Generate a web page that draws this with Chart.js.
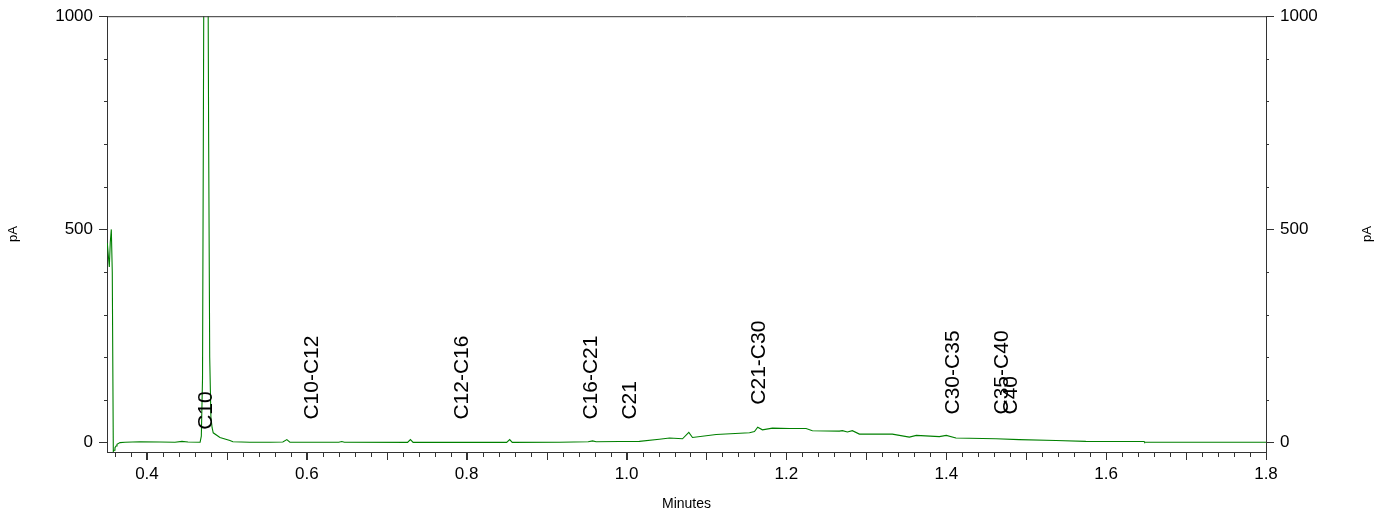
<!DOCTYPE html>
<html lang="en">
<head>
    <meta charset="UTF-8">
    <title>Chromatogram</title>
    <style>
        html, body { margin: 0; padding: 0; background: #fff; }
        #chromatogram { display: block; }
    </style>
    <script src="https://cdn.jsdelivr.net/npm/chart.js"></script>
</head>
<body>
    <canvas id="chromatogram" width="1386" height="515"></canvas>

    <script>
        // retention time (min) and detector signal (pA)
        const times = [
            0.3504, 0.3516, 0.3529, 0.3541, 0.3554, 0.3566, 0.3579, 0.3588, 0.3600, 0.3613,
            0.3625, 0.3663, 0.3725, 0.3913, 0.4163, 0.4350, 0.4438, 0.4513, 0.4665, 0.4680,
            0.4695, 0.4705, 0.4715, 0.4738, 0.4760, 0.4772, 0.4785, 0.4800, 0.4815, 0.4829,
            0.4913, 0.5038, 0.5075, 0.5288, 0.5538, 0.5700, 0.5750, 0.5788, 0.6400, 0.6438,
            0.6470, 0.7260, 0.7296, 0.7330, 0.8500, 0.8538, 0.8570, 0.9160, 0.9520, 0.9575,
            0.9620, 0.9910, 1.0160, 1.0410, 1.0538, 1.0700, 1.0779, 1.0825, 1.1121, 1.1538,
            1.1600, 1.1641, 1.1700, 1.1825, 1.2038, 1.2246, 1.2325, 1.2663, 1.2700, 1.2763,
            1.2825, 1.2913, 1.3288, 1.3325, 1.3538, 1.3625, 1.3913, 1.4000, 1.4121, 1.4621,
            1.4913, 1.5371, 1.5746, 1.6475, 1.6480, 1.8000
        ];
        const signal = [
            468, 440, 412, 470, 500, 400, -21, -18, -12, -8,
            -4, 0, 1, 2, 1.5, 1, 3, 1.5, 1, 15,
            150, 700, 1300, 1900, 1300, 700, 200, 60, 35, 23,
            12, 5, 2, 1, 1, 1.5, 7, 1, 0.8, 2.5,
            0.8, 0.5, 7, 0.5, 0.5, 7, 0.5, 1, 2, 4,
            2, 2.5, 3, 8, 11, 9, 24, 12, 19, 23,
            26, 36, 30, 34, 33, 33, 28, 27, 28, 25,
            28, 20, 20, 20, 13, 17, 14, 17, 11, 9,
            7, 5, 3, 2.5, 1, 1
        ];

        const xTicks = [0.4, 0.6, 0.8, 1.0, 1.2, 1.4, 1.6, 1.8];
        const yTicks = [0, 500, 1000];

        // peak annotations: name, retention time, signal level at text foot
        const peakNames = ['C10', 'C10-C12', 'C12-C16', 'C16-C21', 'C21', 'C21-C30', 'C30-C35', 'C35-C40', 'C40'];
        const peakTimes = [0.4746, 0.6063, 0.7950, 0.9563, 1.0050, 1.1663, 1.4088, 1.4700, 1.4813];
        const peakLevels = [30, 54, 54, 54, 54, 89, 66, 66, 66];

        const FONT = "'Liberation Sans', Arial, sans-serif";
        const AXIS = '#333';

        // frame on top, minor ticks, right unit label and peak names
        const extras = {
            id: 'extras',
            afterDraw(chart) {
                const ctx = chart.ctx;
                const a = chart.chartArea;
                const x = chart.scales.x, y = chart.scales.y;

                ctx.save();
                ctx.strokeStyle = AXIS;
                ctx.lineWidth = 1;
                ctx.beginPath();
                ctx.moveTo(a.left, a.top + 0.5);
                ctx.lineTo(a.right, a.top + 0.5);

                // x minor ticks every 0.02, longer at 0.1
                for (let i = 18; i <= 90; i++) {
                    const t = i / 50;
                    const px = Math.round(x.getPixelForValue(t)) + 0.5;
                    const len = (i % 5 === 0) ? 8 : 5;
                    ctx.moveTo(px, a.bottom);
                    ctx.lineTo(px, a.bottom + len);
                }
                // y minor ticks every 100 on both sides
                for (let v = 100; v < 1000; v += 100) {
                    if (v === 500) continue;
                    const py = Math.round(y.getPixelForValue(v)) + 0.5;
                    ctx.moveTo(a.left - 3, py);
                    ctx.lineTo(a.left, py);
                    ctx.moveTo(a.right, py);
                    ctx.lineTo(a.right + 3, py);
                }
                ctx.stroke();

                ctx.fillStyle = '#000';
                ctx.textBaseline = 'middle';

                // right axis unit, same reading direction as the left one
                ctx.save();
                ctx.font = '13px ' + FONT;
                ctx.textAlign = 'center';
                ctx.translate(chart.width - 19, (a.top + a.bottom) / 2);
                ctx.rotate(-Math.PI / 2);
                ctx.fillText('pA', 0, 0);
                ctx.restore();

                ctx.font = '21px ' + FONT;
                ctx.textAlign = 'left';
                peakNames.forEach((name, i) => {
                    ctx.save();
                    ctx.translate(x.getPixelForValue(peakTimes[i]), y.getPixelForValue(peakLevels[i]));
                    ctx.rotate(-Math.PI / 2);
                    ctx.fillText(name, 0, 0);
                    ctx.restore();
                });
                ctx.restore();
            }
        };

        function yAxis(position, width, showTitle) {
            return {
                type: 'linear',
                position: position,
                min: -22,
                max: 1000,
                afterBuildTicks: s => { s.ticks = yTicks.map(v => ({ value: v })); },
                afterFit: s => { s.width = width; },
                ticks: { color: '#000', font: { family: FONT, size: 17 }, padding: 6, callback: v => String(v) },
                grid: { drawOnChartArea: false, tickLength: 8, color: AXIS },
                border: { color: AXIS },
                title: { display: showTitle, text: 'pA', color: '#000', font: { family: FONT, size: 13 }, padding: { top: 6, bottom: 0 } }
            };
        }

        const ctx = document.getElementById('chromatogram').getContext('2d');
        new Chart(ctx, {
            type: 'line',
            data: {
                datasets: [{
                    data: times.map((t, i) => ({ x: t, y: signal[i] })),
                    borderColor: '#008000',
                    borderWidth: 1.1,
                    pointRadius: 0,
                    tension: 0,
                    fill: false
                }]
            },
            options: {
                responsive: false,
                animation: false,
                layout: { padding: { top: 16, left: 0, right: 0, bottom: 0 } },
                plugins: { legend: { display: false }, tooltip: { enabled: false } },
                scales: {
                    x: {
                        type: 'linear',
                        min: 0.35,
                        max: 1.8,
                        afterBuildTicks: s => { s.ticks = xTicks.map(v => ({ value: v })); },
                        afterFit: s => { s.height = 63; },
                        ticks: {
                            color: '#000',
                            font: { family: FONT, size: 17 },
                            padding: 4,
                            maxRotation: 0,
                            autoSkip: false,
                            callback: v => v.toFixed(1)
                        },
                        grid: { drawOnChartArea: false, tickLength: 8, color: AXIS },
                        border: { color: AXIS },
                        title: { display: true, text: 'Minutes', color: '#000', font: { family: FONT, size: 14 }, padding: { top: 0, bottom: 2 } }
                    },
                    y: yAxis('left', 107, true),
                    y2: yAxis('right', 120, false)
                }
            },
            plugins: [extras]
        });
    </script>
</body>
</html>
